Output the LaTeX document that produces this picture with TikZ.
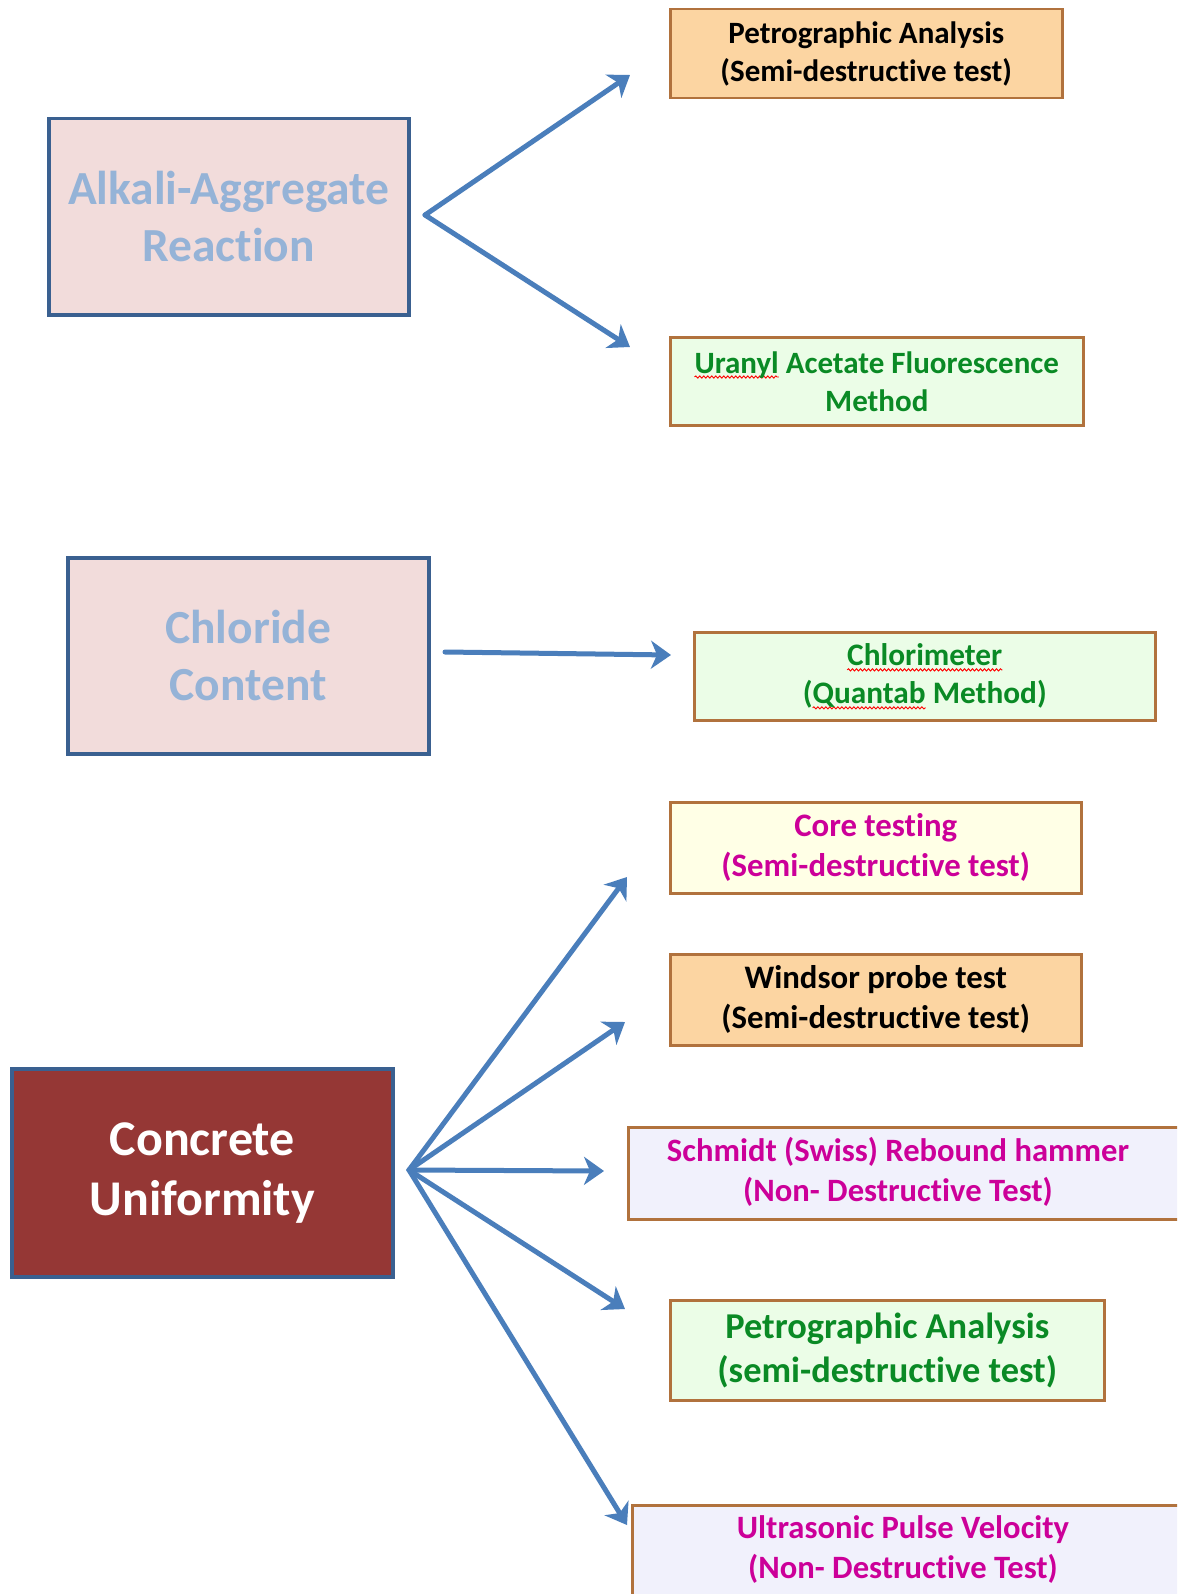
\documentclass[tikz,border=0pt]{standalone}
\usepackage{fontspec}
\setmainfont{Carlito}[Ligatures=NoCommon]
\usetikzlibrary{arrows.meta,decorations.pathmorphing}
\definecolor{arrowblue}{HTML}{4A7EBB}
\definecolor{boxblue}{HTML}{3A6090}
\definecolor{pinkfill}{HTML}{F2DCDB}
\definecolor{ltblue}{HTML}{95B3D7}
\definecolor{darkred}{HTML}{953735}
\definecolor{orangefill}{HTML}{FCD5A2}
\definecolor{brownb}{HTML}{B1723D}
\definecolor{greenfill}{HTML}{EBFDE7}
\definecolor{greentext}{HTML}{0A8A25}
\definecolor{yellowfill}{HTML}{FFFFE6}
\definecolor{magtext}{HTML}{CC0099}
\definecolor{lavfill}{HTML}{F1F1FC}
\newlength\swlen
\newcommand\spellwave[1]{\settowidth\swlen{#1}\tikz[overlay,baseline=0pt]\draw[red,line width=0.9pt,decorate,decoration={snake,amplitude=1.1pt,segment length=4pt}] (0pt,-4pt) -- (\the\swlen,-4pt);#1}
\newcommand\fs[2]{\bfseries\fontsize{#1}{#2}\selectfont}
\tikzset{
  box/.style={rectangle, anchor=north west, align=center, inner sep=0pt},
  mainbox/.style={box, draw=boxblue, line width=3.5pt, fill=pinkfill, text=ltblue, font=\fs{47.5}{57}},
  redbox/.style={box, draw=boxblue, line width=3.5pt, fill=darkred, text=white, font=\fs{50}{60}},
  orangebox/.style={box, draw=brownb, line width=2.5pt, fill=orangefill, text=black},
  greenbox/.style={box, draw=brownb, line width=2.5pt, fill=greenfill, text=greentext},
  yellowbox/.style={box, draw=brownb, line width=2.5pt, fill=yellowfill, text=magtext},
  lavbox/.style={box, draw=brownb, line width=2.5pt, fill=lavfill},
  magtxt/.style={align=center, inner sep=0pt, text=magtext, font=\fs{32.6}{40}},
  conn/.style={draw=arrowblue, line width=5pt, line cap=round, -{Stealth[length=20pt,width=28pt,inset=6pt]}}
}
\begin{document}
\begin{tikzpicture}[x=1pt,y=-1pt]
\useasboundingbox (0,0) rectangle (1177,1594);
\clip (0,0) rectangle (1177,1594);
\fill[white] (0,0) rectangle (1177,1594);

% left boxes
\node[mainbox, minimum width=360pt, minimum height=196pt] (aar) at (47,117) {Alkali-Aggregate\\Reaction};
\node[mainbox, minimum width=361pt, minimum height=196pt] (cc) at (66,556) {Chloride\\Content};
\node[redbox, minimum width=381pt, minimum height=208pt] (cu) at (10,1067) {Concrete\\Uniformity};

% right boxes
\node[orangebox, minimum width=392pt, minimum height=89pt, font=\fs{31}{38}] (pa1) at (669,8) {Petrographic Analysis\\(Semi-destructive test)};
\node[greenbox, minimum width=413pt, minimum height=88pt, font=\fs{31}{38}] (ua) at (669,336) {\spellwave{Uranyl} Acetate Fluorescence\\Method};
\node[greenbox, minimum width=461pt, minimum height=88pt, font=\fs{31.3}{38}] (ch) at (693,631) {\spellwave{Chlorimeter}\\(\spellwave{Quantab} Method)};
\node[yellowbox, minimum width=411pt, minimum height=91pt, font=\fs{32.8}{40}] (ct) at (669,801) {Core testing\\(Semi-destructive test)};
\node[orangebox, minimum width=411pt, minimum height=91pt, font=\fs{32.8}{40}] (wp) at (669,953) {Windsor probe test\\(Semi-destructive test)};
\node[lavbox, minimum width=620pt, minimum height=92pt] (sr) at (627,1126) {};
\node[magtxt] (srt) at (898,1172) {Schmidt (Swiss) Rebound hammer\\(Non- Destructive Test)};
\node[greenbox, minimum width=434pt, minimum height=100pt, font=\fs{36.4}{44}] (pa2) at (669,1299) {Petrographic Analysis\\(semi-destructive test)};
\node[lavbox, minimum width=620pt, minimum height=120pt] (us) at (631,1504) {};
\node[magtxt] (ust) at (903,1550) {Ultrasonic Pulse Velocity\\(Non- Destructive Test)};

% connectors
\coordinate (aarO) at (425,215);
\coordinate (aarU) at (630,75);
\coordinate (aarD) at (630,347);
\draw[conn] (aarO) -- (aarU);
\draw[conn] (aarO) -- (aarD);

\coordinate (ccS) at (445,652);
\coordinate (ccE) at (671,655);
\draw[conn] (ccS) -- (ccE);

\coordinate (cuO) at (409,1170);
\coordinate (cuT1) at (627,877);
\coordinate (cuT2) at (625,1022);
\coordinate (cuT3) at (604,1171);
\coordinate (cuT4) at (625,1309);
\coordinate (cuT5) at (627,1525);
\foreach \t in {cuT1,cuT2,cuT3,cuT4,cuT5}{\draw[conn] (cuO) -- (\t);}
\end{tikzpicture}
\end{document}
